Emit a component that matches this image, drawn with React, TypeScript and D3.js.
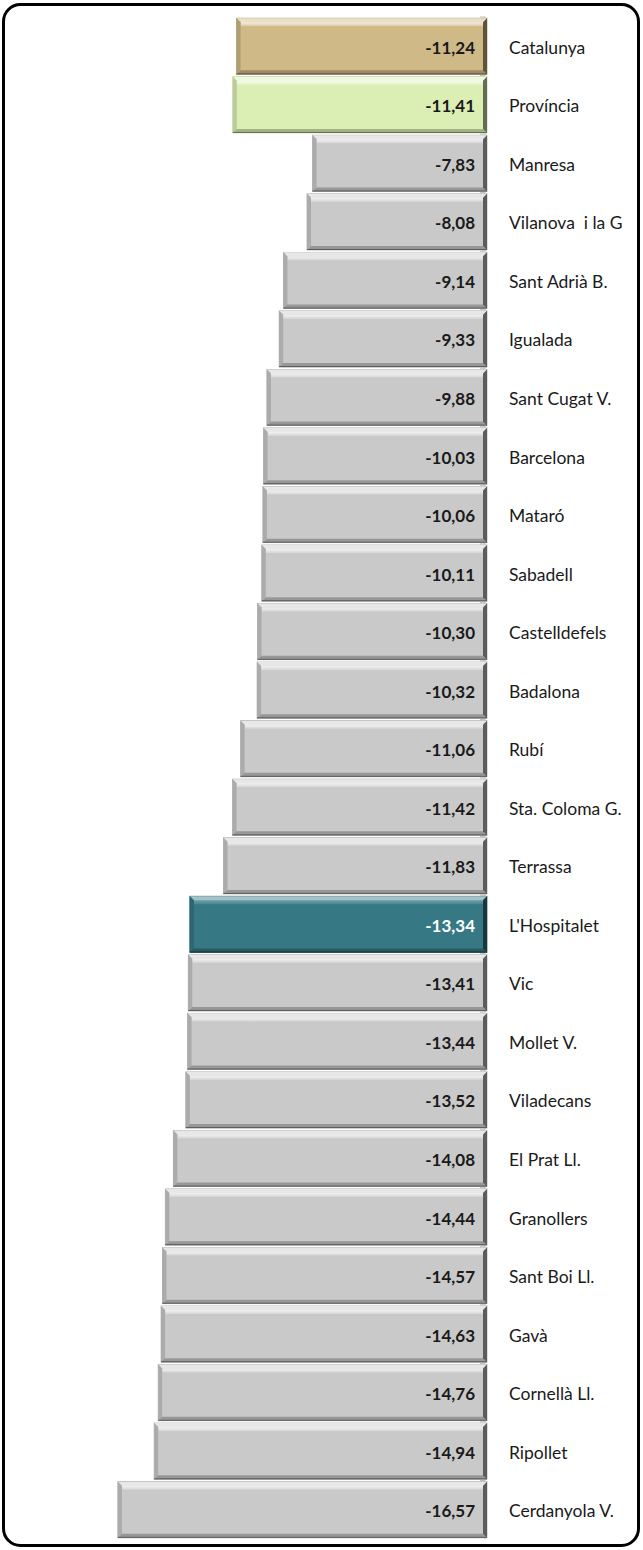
import React from 'react';
import * as d3 from 'd3';

const categories = [
  'Catalunya', 'Província', 'Manresa', 'Vilanova  i la G', 'Sant Adrià B.', 'Igualada',
  'Sant Cugat V.', 'Barcelona', 'Mataró', 'Sabadell', 'Castelldefels', 'Badalona',
  'Rubí', 'Sta. Coloma G.', 'Terrassa', "L'Hospitalet", 'Vic', 'Mollet V.',
  'Viladecans', 'El Prat Ll.', 'Granollers', 'Sant Boi Ll.', 'Gavà', 'Cornellà Ll.',
  'Ripollet', 'Cerdanyola V.',
];
const values = [
  -11.24, -11.41, -7.83, -8.08, -9.14, -9.33, -9.88, -10.03, -10.06, -10.11, -10.3, -10.32,
  -11.06, -11.42, -11.83, -13.34, -13.41, -13.44, -13.52, -14.08, -14.44, -14.57, -14.63,
  -14.76, -14.94, -16.57,
];
// special colours, everything else is grey
const highlight: Record<string, string> = {
  Catalunya: '#cfb987',
  'Província': '#dbefb5',
  "L'Hospitalet": '#367884',
};
const grey = '#c9c9c9';

const width = 643;
const height = 1550;
const font = 'Lato, "Open Sans", sans-serif';

const fmt = (v: number) => d3.format('.2f')(v).replace('\u2212', '-').replace('.', ',');

export default function App() {
  const x = d3.scaleLinear().domain([-18, 0]).range([86, 487]);
  const y = d3
    .scaleBand<string>()
    .domain(categories)
    .range([17, 1539])
    .paddingInner(0.04)
    .paddingOuter(0.02);

  const bw = y.bandwidth();
  const b = 4;

  return (
    <div style={{ position: 'absolute', left: 0, top: 0 }}>
      <svg width={width} height={height} style={{ display: 'block', background: '#fff' }}>
        <defs>
          <linearGradient id="shine" x1="0" y1="0" x2="0" y2="1">
            <stop offset="0%" stopColor="#fff" stopOpacity={0.95} />
            <stop offset="100%" stopColor="#fff" stopOpacity={0.3} />
          </linearGradient>
        </defs>
        <rect x={3.5} y={4.5} width={635} height={1541} rx={17} fill="#fff" stroke="#000" strokeWidth={3} />

        {/* axis line and ticks */}
        <line x1={x(0) - 2} x2={x(0) - 2} y1={y.range()[0]} y2={y.range()[1]} stroke="#bfbfbf" />
        {categories.map((c) => (
          <line
            key={'t' + c}
            x1={x(0) - 7}
            x2={x(0) - 2}
            y1={(y(c) as number) - y.step() * 0.02}
            y2={(y(c) as number) - y.step() * 0.02}
            stroke="#bfbfbf"
          />
        ))}

        {categories.map((c, i) => {
          const x0 = x(values[i]);
          const x1 = x(0);
          const y0 = y(c) as number;
          const y1 = y0 + bw;
          const face = highlight[c] || grey;
          const col = d3.color(face)!;
          const light = d3.interpolateRgb(face, '#ffffff')(0.55);
          const mid = col.darker(0.45).formatHex();
          const dark = col.darker(0.8).formatHex();
          const darkest = col.darker(2.2).formatHex();
          const pts = (p: number[][]) => p.map((q) => q.join(',')).join(' ');
          const isDark = c === "L'Hospitalet";
          return (
            <g key={c}>
              <rect x={x0} y={y0} width={x1 - x0} height={bw} fill={face} stroke={mid} strokeWidth={0.8} />
              <polygon points={pts([[x0, y0], [x1, y0], [x1 - b, y0 + b], [x0 + b, y0 + b]])} fill={light} />
              <rect x={x0 + b} y={y0 + b} width={x1 - x0 - 2 * b} height={4} fill="url(#shine)" opacity={isDark ? 0.3 : 0.8} />
              <polygon points={pts([[x0, y0], [x0 + b, y0 + b], [x0 + b, y1 - b], [x0, y1]])} fill={mid} />
              <polygon points={pts([[x0, y1], [x1, y1], [x1 - b, y1 - b], [x0 + b, y1 - b]])} fill={dark} />
              <line x1={x0} x2={x1} y1={y1 - 0.5} y2={y1 - 0.5} stroke={darkest} strokeWidth={1} />
              <polygon points={pts([[x1, y0], [x1 - b, y0 + b], [x1 - b, y1 - b], [x1, y1]])} fill={darkest} />
              <text
                x={x1 - 12}
                y={y0 + bw / 2 + 1}
                textAnchor="end"
                dominantBaseline="central"
                fontFamily={font}
                fontWeight="bold"
                fontSize={17}
                fill={isDark ? '#ffffff' : '#1a1a1a'}
              >
                {fmt(values[i])}
              </text>
              <text
                x={x1 + 22}
                y={y0 + bw / 2 + 1}
                dominantBaseline="central"
                fontFamily={font}
                fontSize={17.5}
                fill="#1a1a1a"
                style={{ whiteSpace: 'pre' }}
              >
                {c}
              </text>
            </g>
          );
        })}
      </svg>
    </div>
  );
}
